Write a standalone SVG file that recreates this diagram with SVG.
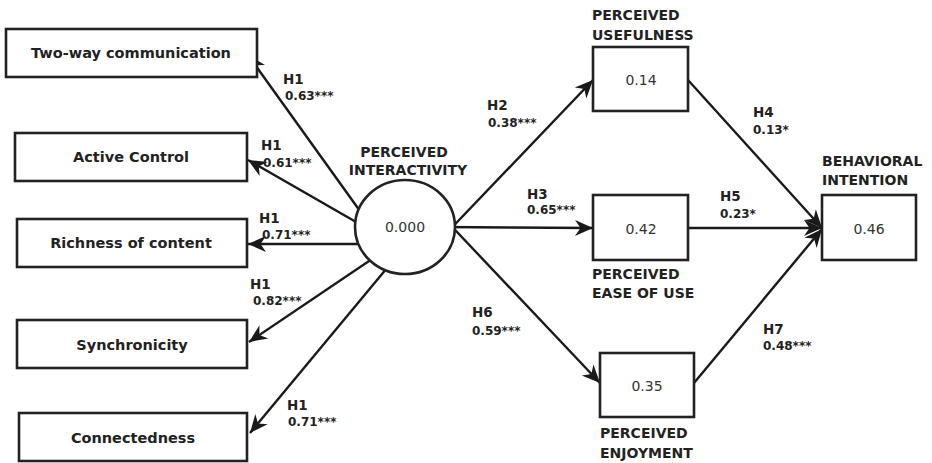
<svg xmlns="http://www.w3.org/2000/svg" width="932" height="463" viewBox="0 0 932 463">
<defs>
<marker id="ah" markerUnits="userSpaceOnUse" markerWidth="22" markerHeight="18" refX="0" refY="0" viewBox="-19 -9 21 18" orient="auto" overflow="visible">
<path d="M0,0 L-18,-8 L-12.5,0 L-18,8 Z" fill="#1a1a1a"/>
</marker>
<style>
.box{fill:#fff;stroke:#222;stroke-width:2.6}
.ln{stroke:#1a1a1a;stroke-width:2.4;fill:none;marker-end:url(#ah)}
.lbl{font-family:"DejaVu Sans",Verdana,sans-serif;font-weight:bold;font-size:14.5px;fill:#222}
.cap{font-family:"DejaVu Sans",Verdana,sans-serif;font-weight:bold;font-size:14px;fill:#222}
.val{font-family:"DejaVu Sans",Verdana,sans-serif;font-size:14px;fill:#333}
.hl{font-family:"DejaVu Sans",Verdana,sans-serif;font-weight:bold;font-size:13.5px;fill:#222}
.cf{font-family:"DejaVu Sans",Verdana,sans-serif;font-weight:bold;font-size:12px;fill:#222}
</style>
</defs>
<g id="connectors">
<line class="ln" x1="370" y1="225" x2="248" y2="55"/>
<line class="ln" x1="370" y1="230" x2="248" y2="160"/>
<line class="ln" x1="370" y1="244" x2="248" y2="244"/>
<line class="ln" x1="375" y1="257" x2="249" y2="342"/>
<line class="ln" x1="392" y1="262" x2="250" y2="433"/>
<line class="ln" x1="440" y1="240" x2="593" y2="80"/>
<line class="ln" x1="440" y1="227" x2="593" y2="228"/>
<line class="ln" x1="440" y1="214" x2="600" y2="383"/>
<line class="ln" x1="688" y1="80" x2="822" y2="228"/>
<line class="ln" x1="688" y1="228" x2="822" y2="228"/>
<line class="ln" x1="694" y1="383" x2="822" y2="229"/>
<g class="hl">
<text x="283" y="84">H1</text>
<text x="261" y="150">H1</text>
<text x="259" y="223">H1</text>
<text x="250" y="289">H1</text>
<text x="287" y="410">H1</text>
<text x="487" y="110">H2</text>
<text x="527" y="199">H3</text>
<text x="753" y="117">H4</text>
<text x="720" y="201">H5</text>
<text x="472" y="317">H6</text>
<text x="763" y="334">H7</text>
</g>
<g class="cf">
<text x="285" y="100">0.63***</text>
<text x="263" y="167">0.61***</text>
<text x="262" y="239">0.71***</text>
<text x="253" y="305">0.82***</text>
<text x="288" y="426">0.71***</text>
<text x="488" y="127">0.38***</text>
<text x="527" y="214">0.65***</text>
<text x="753" y="134">0.13*</text>
<text x="720" y="218">0.23*</text>
<text x="472" y="335">0.59***</text>
<text x="763" y="350">0.48***</text>
</g>
</g>
<g id="two-way">
<rect class="box" x="6" y="29" width="251" height="48"/>
<text class="lbl" x="131" y="58" text-anchor="middle">Two-way communication</text>
</g>
<g id="active-control">
<rect class="box" x="15" y="133" width="232" height="48"/>
<text class="lbl" x="131" y="162" text-anchor="middle">Active Control</text>
</g>
<g id="richness">
<rect class="box" x="17" y="219" width="230" height="48"/>
<text class="lbl" x="131" y="248" text-anchor="middle">Richness of content</text>
</g>
<g id="synchronicity">
<rect class="box" x="17" y="320" width="230" height="48"/>
<text class="lbl" x="132" y="350" text-anchor="middle">Synchronicity</text>
</g>
<g id="connectedness">
<rect class="box" x="19" y="413" width="228" height="48"/>
<text class="lbl" x="133" y="443" text-anchor="middle">Connectedness</text>
</g>
<g id="interactivity">
<ellipse class="box" cx="405" cy="227" rx="50" ry="47"/>
<text class="val" x="405" y="232" text-anchor="middle">0.000</text>
<text class="cap" x="404" y="157" text-anchor="middle">PERCEIVED</text>
<text class="cap" x="408" y="175" text-anchor="middle">INTERACTIVITY</text>
</g>
<g id="usefulness">
<rect class="box" x="593" y="47" width="95" height="64"/>
<text class="val" x="641" y="85" text-anchor="middle">0.14</text>
<text class="cap" x="592" y="20">PERCEIVED</text>
<text class="cap" x="592" y="40">USEFULNESS</text>
</g>
<g id="ease-of-use">
<rect class="box" x="593" y="195" width="95" height="65"/>
<text class="val" x="641" y="234" text-anchor="middle">0.42</text>
<text class="cap" x="592" y="279">PERCEIVED</text>
<text class="cap" x="592" y="298">EASE OF USE</text>
</g>
<g id="enjoyment">
<rect class="box" x="600" y="353" width="94" height="64"/>
<text class="val" x="647" y="391" text-anchor="middle">0.35</text>
<text class="cap" x="600" y="438">PERCEIVED</text>
<text class="cap" x="600" y="458">ENJOYMENT</text>
</g>
<g id="intention">
<rect class="box" x="822" y="195" width="94" height="65"/>
<text class="val" x="869" y="234" text-anchor="middle">0.46</text>
<text class="cap" x="822" y="166">BEHAVIORAL</text>
<text class="cap" x="822" y="185">INTENTION</text>
</g>
</svg>
